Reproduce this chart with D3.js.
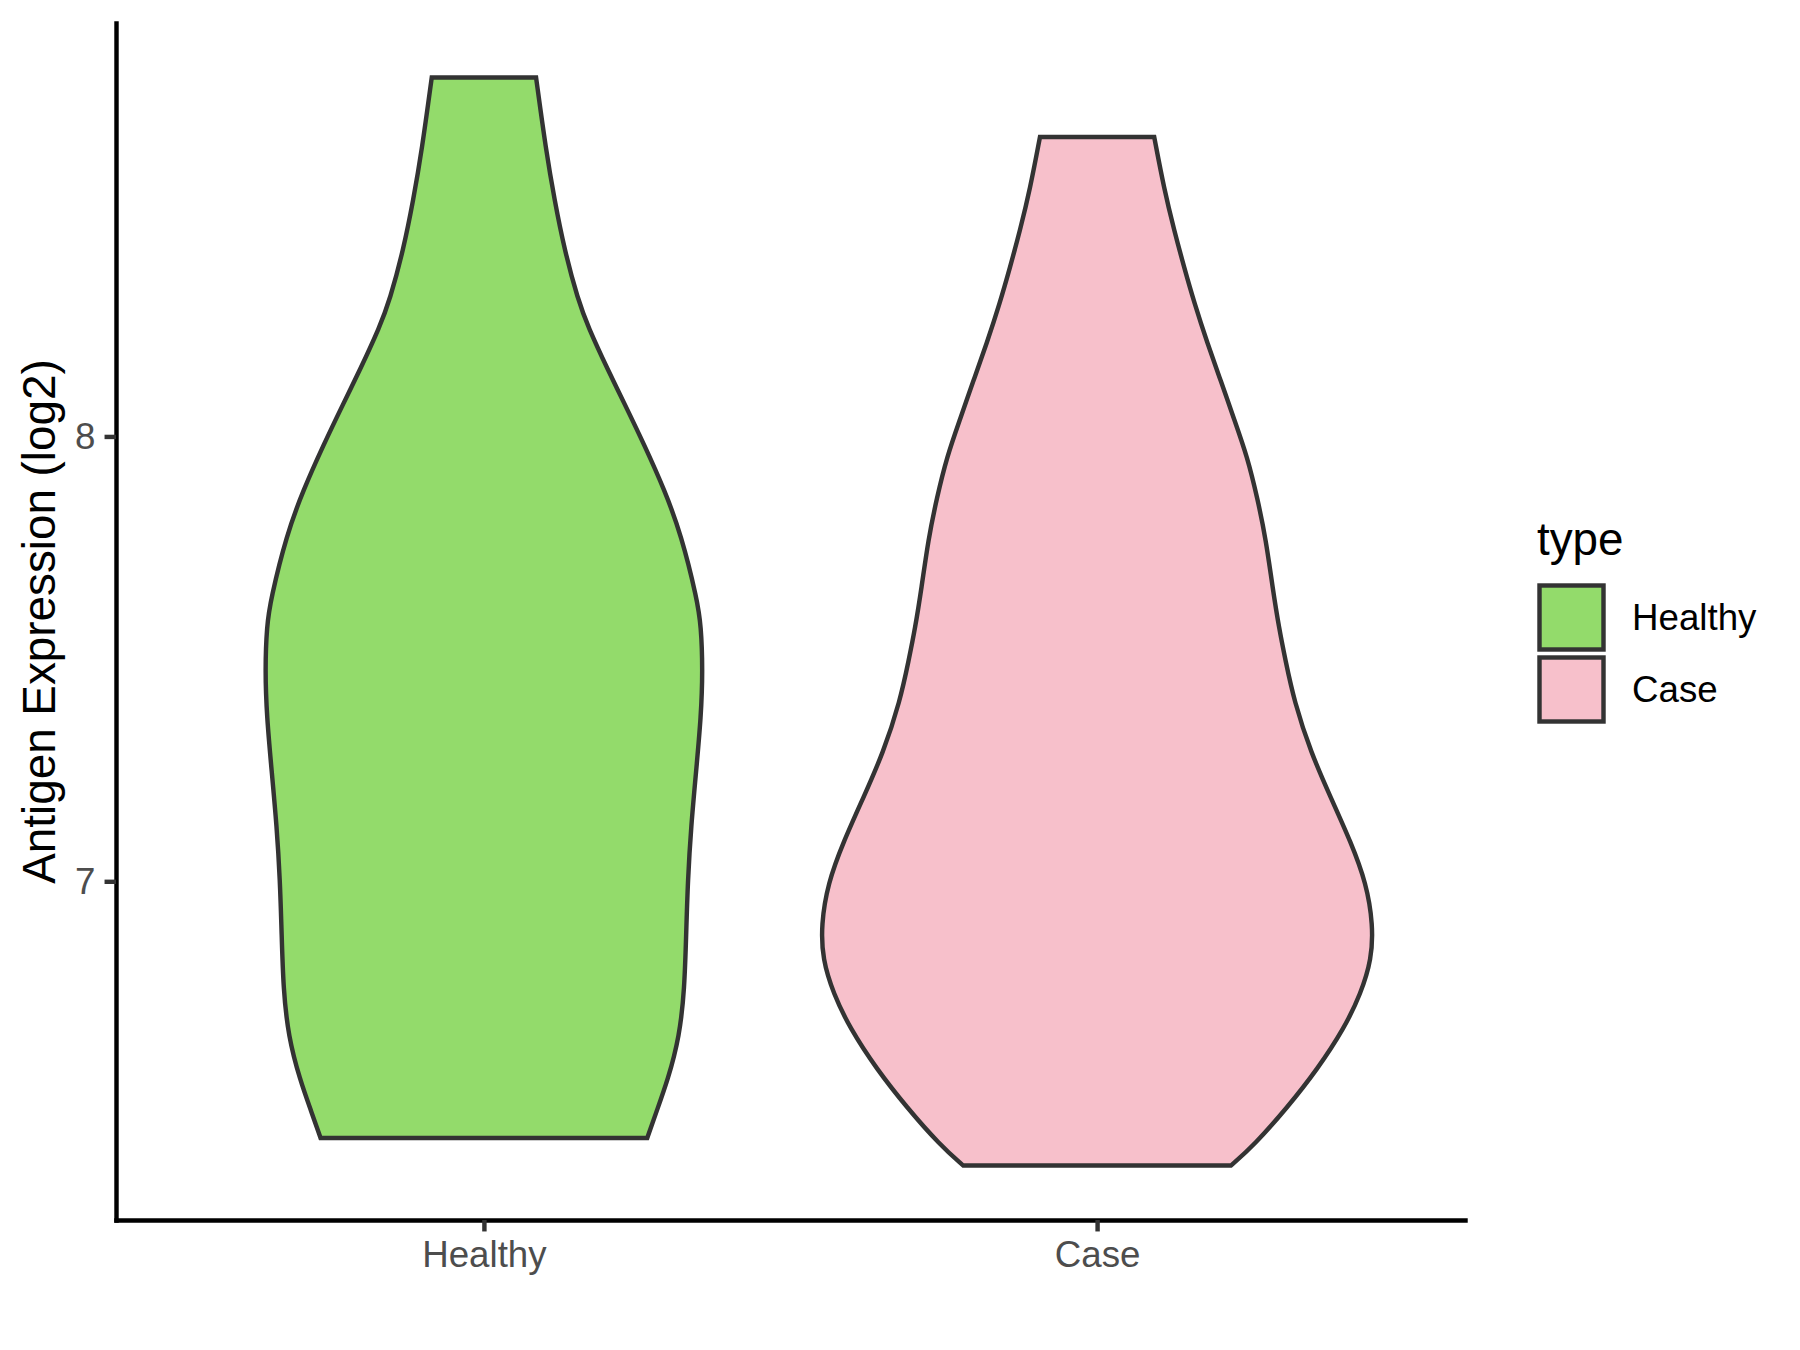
<!DOCTYPE html>
<html>
<head>
	<meta charset="utf-8">
	<title>Antigen Expression</title>
	<script type="text/javascript" src="https://cdn.jsdelivr.net/npm/d3@7/dist/d3.min.js"></script>
	<style>
		body { margin: 0; background: #fff; }
		text { font-family: "Liberation Sans", Arial, sans-serif; }
	</style>
</head>
<body>

	<div id="chart"></div>

	<script type="text/javascript">

		/* values */
		var categories = ["Healthy", "Case"];
		var colors = ["#93DB6B", "#F7C0CB"];
		var yTicks = [7, 8];

		/* violin outlines: expression value and scaled density (max = 1) */
		var healthyValues = [6.423, 6.480, 6.554, 6.652, 6.758, 6.881, 7.003, 7.125, 7.247, 7.370, 7.476, 7.574, 7.633,
			7.779, 7.879, 7.980, 8.073, 8.150, 8.247, 8.307, 8.419, 8.531, 8.643, 8.807];
		var healthyDensity = [0.592, 0.624, 0.667, 0.709, 0.727, 0.733, 0.739, 0.751, 0.769, 0.787, 0.793, 0.787, 0.773,
			0.715, 0.655, 0.582, 0.510, 0.449, 0.377, 0.341, 0.292, 0.256, 0.225, 0.189];

		var caseValues = [6.361, 6.407, 6.492, 6.578, 6.670, 6.748, 6.825, 6.902, 6.995, 7.088, 7.188, 7.289, 7.405,
			7.499, 7.567, 7.660, 7.768, 7.861, 7.953, 8.038, 8.124, 8.209, 8.301, 8.379, 8.464, 8.556, 8.673];
		var caseDensity = [0.485, 0.569, 0.690, 0.799, 0.896, 0.956, 0.995, 1.000, 0.976, 0.920, 0.847, 0.775, 0.714,
			0.682, 0.660, 0.636, 0.612, 0.581, 0.545, 0.497, 0.449, 0.400, 0.352, 0.316, 0.279, 0.243, 0.207];

		var width = 1800, height = 1350;
		var panel = {left: 116, right: 1465, top: 23, bottom: 1220};
		var lw = 4.44;

		var svg = d3.select("#chart").append("svg")
			.attr("width", width)
			.attr("height", height);

		/* scales */
		var allValues = healthyValues.concat(caseValues);
		var lo = d3.min(allValues), hi = d3.max(allValues), pad = (hi - lo) * 0.05;

		var y = d3.scaleLinear()
			.domain([lo - pad, hi + pad])
			.range([panel.bottom, panel.top]);

		var x = d3.scalePoint()
			.domain(categories)
			.range([panel.left, panel.right])
			.padding(0.6);

		var w = d3.scaleLinear()
			.domain([0, 1])
			.range([0, 0.45 * x.step()]);

		/* violins */
		var violins = [
			{name: "Healthy", values: healthyValues, density: healthyDensity},
			{name: "Case", values: caseValues, density: caseDensity}
		];

		violins.forEach(function(v, i) {
			var pts = v.values.map(function(d, j) { return {v: d, d: v.density[j]}; });
			var cx = x(v.name);
			var area = d3.area()
				.curve(d3.curveBasis)
				.y(function(p) { return y(p.v); })
				.x0(function(p) { return cx - w(p.d); })
				.x1(function(p) { return cx + w(p.d); });
			svg.append("path")
				.datum(pts)
				.attr("d", area)
				.attr("fill", colors[i])
				.attr("stroke", "#333333")
				.attr("stroke-width", lw)
				.attr("stroke-linejoin", "miter");
		});

		/* axes */
		var yAxis = svg.append("g")
			.attr("transform", "translate(" + panel.left + ",0)")
			.call(d3.axisLeft(y).tickValues(yTicks).tickFormat(d3.format("d"))
				.tickSize(11.46).tickSizeOuter(0).tickPadding(9.17));

		var xAxis = svg.append("g")
			.attr("transform", "translate(0," + panel.bottom + ")")
			.call(d3.axisBottom(x).tickSize(11.46).tickSizeOuter(0).tickPadding(9.17));

		[yAxis, xAxis].forEach(function(g) {
			g.select(".domain").attr("stroke", "#000").attr("stroke-width", lw).attr("stroke-linecap", "square");
			g.selectAll(".tick line").attr("stroke", "#333333").attr("stroke-width", lw);
			g.selectAll(".tick text")
				.attr("fill", "#4D4D4D")
				.style("font-size", "36.7px")
				.style("font-family", "'Liberation Sans', Arial, sans-serif");
		});

		/* y axis title */
		svg.append("text")
			.attr("transform", "translate(55," + ((panel.top + panel.bottom) / 2) + ") rotate(-90)")
			.attr("text-anchor", "middle")
			.style("font-size", "45.8px")
			.attr("fill", "#000")
			.text("Antigen Expression (log2)");

		/* legend */
		var legend = svg.append("g").attr("transform", "translate(1537,555)");

		legend.append("text")
			.attr("x", 0)
			.attr("y", 0)
			.style("font-size", "45.8px")
			.text("type");

		categories.forEach(function(c, i) {
			var top = 28 + i * 72;
			legend.append("rect")
				.attr("x", 2.5)
				.attr("y", top + 2.5)
				.attr("width", 64)
				.attr("height", 64)
				.attr("fill", colors[i])
				.attr("stroke", "#333333")
				.attr("stroke-width", lw);
			legend.append("text")
				.attr("x", 95)
				.attr("y", top + 34.5)
				.attr("dy", "0.35em")
				.style("font-size", "36.7px")
				.text(c);
		});

	</script>
</body>
</html>
